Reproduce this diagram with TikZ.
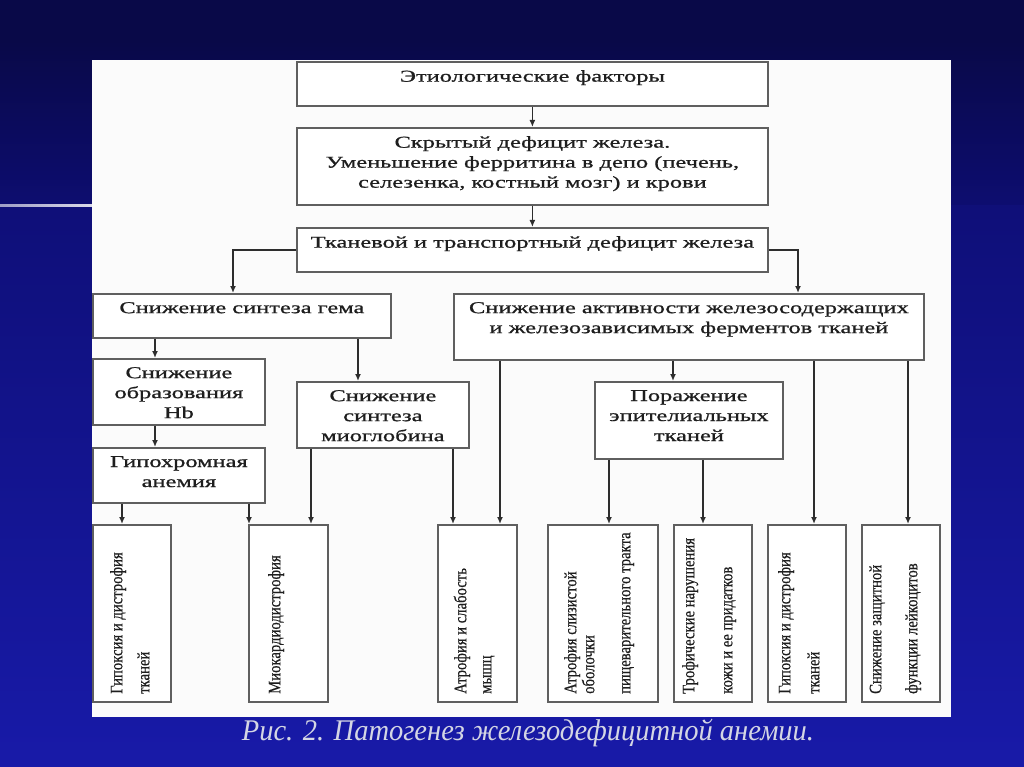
\documentclass[tikz,border=0pt]{standalone}
\usepackage{fontspec}
\setmainfont{Liberation Serif}
\newfontfamily\boxfont{Liberation Serif}[FakeStretch=1.48,FakeBold=0.9]
\newfontfamily\vfont{Liberation Serif}[FakeStretch=0.84,FakeBold=0.5]
\newfontfamily\capfont{Liberation Serif}[FakeStretch=0.95]
\usetikzlibrary{arrows.meta}
\definecolor{bgtop}{RGB}{9,9,72}
\definecolor{bgmid}{RGB}{13,13,112}
\definecolor{bgbot}{RGB}{24,26,168}
\definecolor{panel}{RGB}{251,251,251}
\definecolor{boxline}{RGB}{95,95,95}
\definecolor{arrcol}{RGB}{45,45,45}
\definecolor{txtcol}{RGB}{30,30,30}
\definecolor{capcol}{RGB}{212,214,228}
\begin{document}
\begin{tikzpicture}[x=1pt,y=-1pt,
  box/.style={draw=boxline, line width=1.8pt, fill=white, inner sep=0pt, anchor=north west},
  txt/.style={anchor=north, align=center, inner sep=0pt, text=txtcol, font=\boxfont\fontsize{16.5}{20}\selectfont},
  vtxt/.style={rotate=90, anchor=mid west, inner sep=0pt, text=txtcol, font=\vfont\fontsize{17.5}{20}\selectfont},
  arr/.style={draw=arrcol, line width=1.4pt, -{Latex[length=7pt,width=6pt]}}]
\useasboundingbox (0,0) rectangle (1024,767);
% background
\fill[bgtop] (0,0) rectangle (1024,767);
\shade[top color=bgtop, bottom color=bgmid] (0,40) rectangle (1024,206);
\shade[top color=bgmid!85!bgbot, bottom color=bgbot] (0,206) rectangle (1024,767);
\shade[left color=white!60!bgmid, right color=white!85!bgmid] (0,204.5) rectangle (92,207);
% panel
\fill[panel] (92,60) rectangle (951,717);
% boxes
\node[box, minimum width=471pt, minimum height=44pt] (b1) at (296,61) {};
\node[box, minimum width=471pt, minimum height=77pt] (b2) at (296,127) {};
\node[box, minimum width=471pt, minimum height=44pt] (b3) at (296,227) {};
\node[box, minimum width=298pt, minimum height=44pt] (b4) at (92,293) {};
\node[box, minimum width=470pt, minimum height=66pt] (b5) at (453,293) {};
\node[box, minimum width=172pt, minimum height=66pt] (b6) at (92,358) {};
\node[box, minimum width=172pt, minimum height=66pt] (b7) at (296,381) {};
\node[box, minimum width=172pt, minimum height=55pt] (b8) at (92,447) {};
\node[box, minimum width=188pt, minimum height=77pt] (b9) at (594,381) {};
\node[box, minimum width=78pt, minimum height=177pt] (c1) at (92,524) {};
\node[box, minimum width=79pt, minimum height=177pt] (c2) at (248,524) {};
\node[box, minimum width=79pt, minimum height=177pt] (c3) at (437,524) {};
\node[box, minimum width=110pt, minimum height=177pt] (c4) at (547,524) {};
\node[box, minimum width=78pt, minimum height=177pt] (c5) at (673,524) {};
\node[box, minimum width=78pt, minimum height=177pt] (c6) at (767,524) {};
\node[box, minimum width=78pt, minimum height=177pt] (c7) at (861,524) {};
% horizontal texts
\node[txt] (t1) at ([yshift=-9pt]b1.north) {Этиологические факторы};
\node[txt] (t2) at ([yshift=-9pt]b2.north) {Скрытый дефицит железа.\\Уменьшение ферритина в депо (печень,\\селезенка, костный мозг) и крови};
\node[txt] (t3) at ([yshift=-9pt]b3.north) {Тканевой и транспортный дефицит железа};
\node[txt] (t4) at ([yshift=-9pt]b4.north) {Снижение синтеза гема};
\node[txt] (t5) at ([yshift=-9pt]b5.north) {Снижение активности железосодержащих\\и железозависимых ферментов тканей};
\node[txt] (t6) at ([yshift=-9pt]b6.north) {Снижение\\образования\\Hb};
\node[txt] (t7) at ([yshift=-9pt]b7.north) {Снижение\\синтеза\\миоглобина};
\node[txt] (t8) at ([yshift=-9pt]b8.north) {Гипохромная\\анемия};
\node[txt] (t9) at ([yshift=-9pt]b9.north) {Поражение\\эпителиальных\\тканей};
% vertical texts
\node[vtxt] (v1a) at (120,694) {Гипоксия и дистрофия};
\node[vtxt] (v1b) at (147,694) {тканей};
\node[vtxt] (v2a) at (278,694) {Миокардиодистрофия};
\node[vtxt] (v3a) at (464,694) {Атрофия и слабость};
\node[vtxt] (v3b) at (489,694) {мышц};
\node[vtxt] (v4a) at (574,694) {Атрофия слизистой};
\node[vtxt] (v4b) at (592,694) {оболочки};
\node[vtxt] (v4c) at (628,694) {пищеварительного тракта};
\node[vtxt] (v5a) at (692,694) {Трофические нарушения};
\node[vtxt] (v5b) at (730,694) {кожи и ее придатков};
\node[vtxt] (v6a) at (788,694) {Гипоксия и дистрофия};
\node[vtxt] (v6b) at (817,694) {тканей};
\node[vtxt] (v7a) at (879,694) {Снижение защитной};
\node[vtxt] (v7b) at (915,694) {функции лейкоцитов};
% caption
\node[inner sep=0pt, text=capcol, font=\capfont\itshape\fontsize{30}{32}\selectfont] (cap) at (528,733) {Рис. 2. Патогенез железодефицитной анемии.};
% connectors
\draw[arr] (b1.south) -- (b2.north);
\draw[arr] (b2.south) -- (b3.north);
\draw[arr] (b3.west) -| ([xshift=141pt]b4.north west);
\draw[arr] (b3.east) -| ([xshift=345pt]b5.north west);
\draw[arr] ([xshift=63pt]b4.south west) -- ([xshift=63pt]b6.north west);
\draw[arr] ([xshift=266pt]b4.south west) -- ([xshift=62pt]b7.north west);
\draw[arr] ([xshift=220pt]b5.south west) -- ([xshift=79pt]b9.north west);
\draw[arr] ([xshift=63pt]b6.south west) -- ([xshift=63pt]b8.north west);
\draw[arr] ([xshift=30pt]b8.south west) -- ([xshift=30pt]c1.north west);
\draw[arr] ([xshift=157pt]b8.south west) -- ([xshift=1pt]c2.north west);
\draw[arr] ([xshift=15pt]b7.south west) -- ([xshift=63pt]c2.north west);
\draw[arr] ([xshift=157pt]b7.south west) -- ([xshift=16pt]c3.north west);
\draw[arr] ([xshift=47pt]b5.south west) -- ([xshift=63pt]c3.north west);
\draw[arr] ([xshift=15pt]b9.south west) -- ([xshift=62pt]c4.north west);
\draw[arr] ([xshift=109pt]b9.south west) -- ([xshift=30pt]c5.north west);
\draw[arr] ([xshift=361pt]b5.south west) -- ([xshift=47pt]c6.north west);
\draw[arr] ([xshift=455pt]b5.south west) -- ([xshift=47pt]c7.north west);
\end{tikzpicture}
\end{document}
